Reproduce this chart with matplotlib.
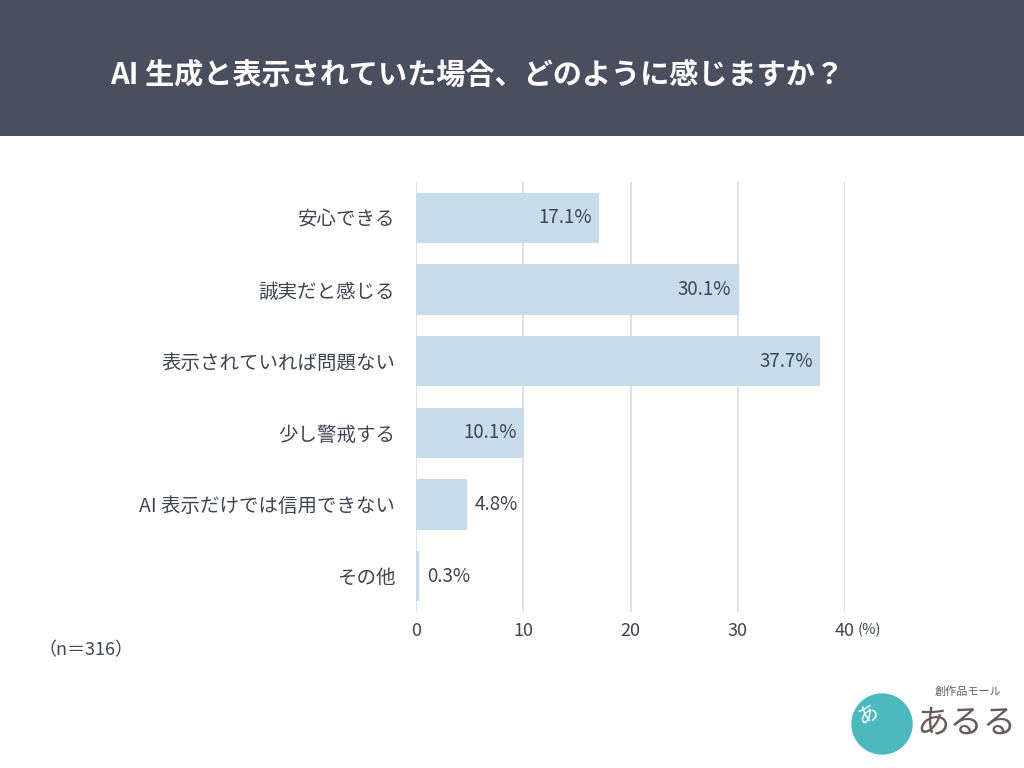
import matplotlib
matplotlib.use('Agg')
import matplotlib.pyplot as plt
from matplotlib.patches import Rectangle, Circle

plt.rcParams['font.family'] = ['Noto Sans CJK JP', 'DejaVu Sans']

# データ
categories = ['安心できる', '誠実だと感じる', '表示されていれば問題ない',
              '少し警戒する', 'AI 表示だけでは信用できない', 'その他']
values = [17.1, 30.1, 37.7, 10.1, 4.8, 0.3]
x_ticks = [0, 10, 20, 30, 40]
title = 'AI 生成と表示されていた場合、どのように感じますか？'
n_note = '（n＝316）'

TEXT = '#3f4452'
BAR = '#c6dceb'

fig = plt.figure(figsize=(10.24, 7.68), dpi=100)
fig.patch.set_facecolor('white')

# ヘッダー帯
fig.patches.append(Rectangle((0, 1 - 136 / 768), 1, 136 / 768, transform=fig.transFigure,
                             facecolor='#4a4f5f', edgecolor='none', zorder=0))
fig.text(110 / 1024, 1 - 75 / 768, title, color='white', fontsize=21, fontweight='bold',
         va='center', ha='left')

ax = fig.add_axes([416 / 1024, 1 - 612 / 768, (845 - 416) / 1024, (612 - 182) / 768])
ypos = list(range(len(categories)))
ax.barh(ypos, values, height=0.7, color=BAR, zorder=2)
ax.set_xlim(0, 40)
ax.set_ylim(len(categories) - 0.5, -0.5)
ax.set_xticks(x_ticks)
ax.set_xticklabels([str(t) for t in x_ticks], fontsize=13, color=TEXT)
ax.set_yticks(ypos)
ax.set_yticklabels(categories, fontsize=14, color=TEXT)
ax.tick_params(axis='both', length=0)
ax.tick_params(axis='y', pad=15)
ax.tick_params(axis='x', pad=7)
ax.grid(axis='x', color='#d9dadc', linewidth=1.2, zorder=0)
for s in ax.spines.values():
    s.set_visible(False)

for y, v in zip(ypos, values):
    label = f'{v:.1f}%'
    if v >= 10:
        ax.text(v - 0.7, y, label, ha='right', va='center', fontsize=13.5, color=TEXT, zorder=3)
    else:
        ax.text(v + 0.7, y, label, ha='left', va='center', fontsize=13.5, color=TEXT, zorder=3)

fig.text(858 / 1024, 1 - 630 / 768, '(%)', fontsize=10.5, color=TEXT, va='center', ha='left')
fig.text(38 / 1024, 1 - 650 / 768, n_note, fontsize=13, color=TEXT, va='center', ha='left')

# ロゴ（簡略化）
logo = fig.add_axes([850 / 1024, 1 - 760 / 768, 170 / 1024, 80 / 768])
logo.set_xlim(0, 170)
logo.set_ylim(0, 80)
logo.axis('off')
logo.add_patch(Circle((32, 36), 30, color='#4cb9bf'))
logo.text(18, 46, 'あ', color='white', fontsize=15, ha='center', va='center', rotation=25)
logo.text(116, 37, 'あるる', color='#6b5a5a', fontsize=24, ha='center', va='center')
logo.text(118, 68, '創作品モール', color='#6b5a5a', fontsize=8, ha='center', va='center')

fig.savefig('out.png', dpi=100, facecolor='white')
